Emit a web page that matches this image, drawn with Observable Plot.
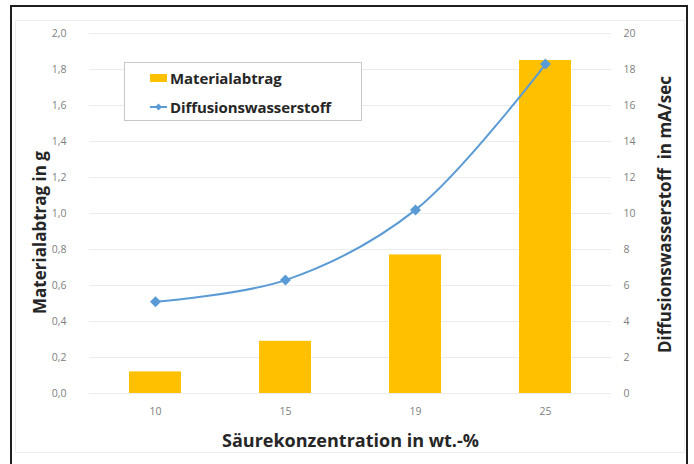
<!DOCTYPE html>
<html>
<head>
<meta charset="utf-8">
<script src="https://cdn.jsdelivr.net/npm/d3@7"></script>
<script src="https://cdn.jsdelivr.net/npm/@observablehq/plot@0.6"></script>
<style>
  html, body { margin: 0; padding: 0; background: #fff; }
  #wrap { position: relative; width: 694px; height: 464px; overflow: hidden; font-family: "Open Sans", sans-serif; }
  #outer { position: absolute; left: 10px; top: 5px; width: 678px; height: 470px; border: 2px solid #1e1e1e; box-sizing: border-box; pointer-events: none; }
  #inner { position: absolute; left: 15px; top: 20px; width: 670px; height: 433px; border: 1px solid #eeeeee; box-sizing: border-box; pointer-events: none; }
  #legend { position: absolute; left: 124px; top: 62px; width: 238px; height: 59px; border: 1px solid #c8c8c8; box-sizing: border-box; background: #fff; }
  .row { position: absolute; left: 24px; display: flex; align-items: center; font-weight: 700; font-size: 15px; letter-spacing: -0.1px; color: #262626; white-space: nowrap; }
  .row svg { margin-right: 2px; }
</style>
</head>
<body>
<div id="wrap">
  <div id="chart"></div>
  <div id="inner"></div>
  <div id="outer"></div>
  <div id="legend">
    <div class="row" style="top:5px"><svg width="19" height="10"><rect x="1" y="1" width="17" height="8" fill="#FFC000"/></svg><span>Materialabtrag</span></div>
    <div class="row" style="top:34px"><svg width="19" height="10"><line x1="1" y1="5" x2="18" y2="5" stroke="#5B9BD5" stroke-width="2"/><path d="M9.5,1.5 L13,5 L9.5,8.5 L6,5 Z" fill="#5B9BD5"/></svg><span>Diffusionswasserstoff</span></div>
  </div>
</div>
<script>
// Acid concentration categories (wt.-%)
const concentrations = ["10", "15", "19", "25"];
// Material removal in g (left axis)
const materialabtrag = [0.12, 0.29, 0.77, 1.85];
// Diffusible hydrogen in mA/sec (right axis)
const diffusionswasserstoff = [5.1, 6.3, 10.2, 18.3];
// Left axis ticks (g) and matching right axis ticks (mA/sec)
const leftTicks = [0, 0.2, 0.4, 0.6, 0.8, 1.0, 1.2, 1.4, 1.6, 1.8, 2.0];
const rightTicks = [0, 2, 4, 6, 8, 10, 12, 14, 16, 18, 20];

const ratio = 10; // right axis units per left axis unit

const bars = concentrations.map((c, i) => ({c, v: materialabtrag[i]}));
const pts = concentrations.map((c, i) => ({c, h: diffusionswasserstoff[i]}));

const font = "Open Sans, sans-serif";

const chart = Plot.plot({
  width: 694,
  height: 464,
  marginTop: 33,
  marginBottom: 71,
  marginLeft: 89,
  marginRight: 83,
  style: {fontFamily: font, background: "transparent", overflow: "visible"},
  x: {domain: concentrations, paddingInner: 0.6, paddingOuter: 0.3},
  y: {domain: [0, 2]},
  marks: [
    Plot.gridY(leftTicks, {stroke: "#ececec", strokeOpacity: 1, strokeWidth: 1}),
    Plot.axisX({tickSize: 0, tickPadding: 14, fontSize: 10.5, color: "#808080", label: null}),
    Plot.axisY(leftTicks, {anchor: "left", tickSize: 0, tickPadding: 23, fontSize: 10.5, color: "#808080", label: null,
      tickFormat: d => d3.format(".1f")(d).replace(".", ",")}),
    Plot.axisY(rightTicks.map(t => t / ratio), {anchor: "right", tickSize: 0, tickPadding: 12, fontSize: 10.5, color: "#808080", label: null,
      textAnchor: "start", tickFormat: d => String(Math.round(d * ratio))}),
    Plot.barY(bars, {x: "c", y: "v", fill: "#FFC000"}),
    Plot.line(pts, {x: "c", y: d => d.h / ratio, stroke: "#5B9BD5", strokeWidth: 2, curve: "catmull-rom"}),
    Plot.dot(pts, {x: "c", y: d => d.h / ratio, symbol: "diamond2", r: 4, fill: "#5B9BD5", stroke: "#5B9BD5"}),
    Plot.text(["Materialabtrag in g"], {frameAnchor: "left", textAnchor: "middle", lineAnchor: "middle", dx: -49, dy: 19, rotate: -90, fontSize: 17, fontWeight: 700, fill: "#262626"}),
    Plot.text(["Diffusionswasserstoff  in mA/sec"], {frameAnchor: "right", textAnchor: "middle", lineAnchor: "middle", dx: 54, dy: 1, rotate: -90, fontSize: 17, fontWeight: 700, fill: "#262626"}),
    Plot.text(["Säurekonzentration in wt.-%"], {frameAnchor: "bottom", lineAnchor: "middle", dy: 48, fontSize: 18, fontWeight: 700, fill: "#262626"})
  ]
});
document.getElementById("chart").appendChild(chart);
</script>
</body>
</html>
